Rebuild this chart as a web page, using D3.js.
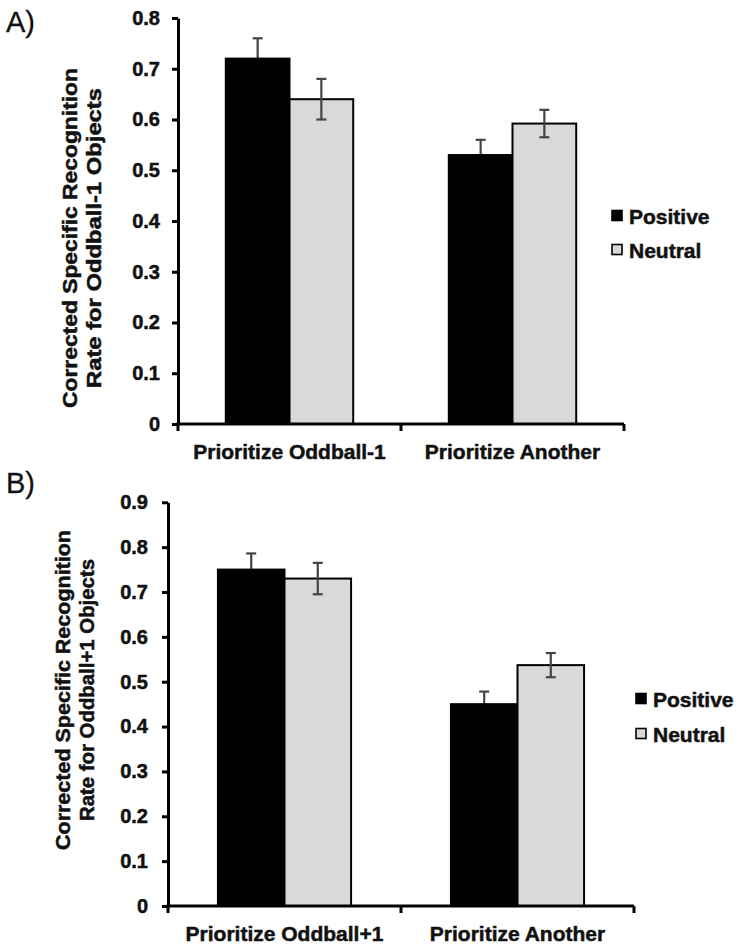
<!DOCTYPE html>
<html>
<head>
<meta charset="utf-8">
<script src="https://cdn.jsdelivr.net/npm/d3@7"></script>
<style>
  body { margin: 0; background: #fff; }
  text { font-family: "Liberation Sans", Arial, sans-serif; font-weight: bold; fill: #111; stroke: #111; stroke-width: 0.5px; }
</style>
</head>
<body>
<script>
// chart values
var series = ["Positive", "Neutral"];

var categoriesA = ["Prioritize Oddball-1", "Prioritize Another"];
var positiveA = [0.72, 0.53];
var neutralA = [0.64, 0.592];
var positiveErrA = [0.04, 0.03];
var neutralErrA = [0.04, 0.027];
var ticksA = [0, 0.1, 0.2, 0.3, 0.4, 0.5, 0.6, 0.7, 0.8];

var categoriesB = ["Prioritize Oddball+1", "Prioritize Another"];
var positiveB = [0.75, 0.45];
var neutralB = [0.73, 0.537];
var positiveErrB = [0.036, 0.028];
var neutralErrB = [0.035, 0.027];
var ticksB = [0, 0.1, 0.2, 0.3, 0.4, 0.5, 0.6, 0.7, 0.8, 0.9];

var fills = { Positive: "#000", Neutral: "#d9d9d9" };

var w = 743, h = 949;
var svg = d3.select("body").append("svg")
    .attr("width", w)
    .attr("height", h);

function panel(p) {
  var g = svg.append("g").attr("class", "panel");

  var y = d3.scaleLinear().domain([0, p.ticks[p.ticks.length - 1]]).range([p.bottom, p.top]);
  var x = d3.scaleBand().domain(p.categories).range([p.left, p.right]);
  var xs = d3.scaleBand().domain(series).range([0, x.bandwidth()]).paddingOuter(0.75);

  // rows for bars
  var rows = [];
  p.categories.forEach(function(c, i) {
    rows.push({ cat: c, s: "Positive", v: p.positive[i], e: p.positiveErr[i] });
    rows.push({ cat: c, s: "Neutral", v: p.neutral[i], e: p.neutralErr[i] });
  });

  function errBar(sel) {
    sel.each(function(d) {
      var cx = x(d.cat) + xs(d.s) + xs.bandwidth() / 2;
      var eg = d3.select(this);
      eg.append("line").attr("x1", cx).attr("x2", cx)
        .attr("y1", y(d.v - d.e)).attr("y2", y(d.v + d.e));
      [d.v - d.e, d.v + d.e].forEach(function(t) {
        eg.append("line").attr("x1", cx - 5).attr("x2", cx + 5)
          .attr("y1", y(t)).attr("y2", y(t));
      });
    });
  }

  // positive whiskers sit behind the black bars
  g.append("g").selectAll("g")
    .data(rows.filter(function(d) { return d.s === "Positive"; }))
    .join("g")
    .attr("stroke", "#444").attr("stroke-width", 2.2)
    .call(errBar);

  g.append("g").selectAll("rect")
    .data(rows)
    .join("rect")
    .attr("x", function(d) { return x(d.cat) + xs(d.s); })
    .attr("y", function(d) { return y(d.v); })
    .attr("width", xs.bandwidth())
    .attr("height", function(d) { return y(0) - y(d.v); })
    .attr("fill", function(d) { return fills[d.s]; })
    .attr("stroke", "#000")
    .attr("stroke-width", 2);

  g.append("g").selectAll("g")
    .data(rows.filter(function(d) { return d.s === "Neutral"; }))
    .join("g")
    .attr("stroke", "#444").attr("stroke-width", 2.2)
    .call(errBar);

  // y axis
  var yAxis = d3.axisLeft(y)
    .tickValues(p.ticks)
    .tickFormat(function(d) { return d === 0 ? "0" : d3.format(".1f")(d); })
    .tickSize(6)
    .tickSizeOuter(0)
    .tickPadding(p.tickPad);
  var ya = g.append("g")
    .attr("transform", "translate(" + p.left + ",0)")
    .call(yAxis);
  ya.select(".domain").attr("stroke", "#000").attr("stroke-width", 3);
  ya.selectAll(".tick line").attr("stroke", "#000").attr("stroke-width", 3);
  ya.selectAll(".tick text")
    .style("font-size", "20px")
    .style("font-family", "Liberation Sans, Arial, sans-serif")
    .style("font-weight", "bold")
    .attr("fill", "#111");

  // x axis with ticks on the band edges
  var edges = p.categories.map(function(c) { return x(c); }).concat([p.right]);
  g.append("line")
    .attr("x1", p.left - 1.5).attr("x2", p.right)
    .attr("y1", y(0)).attr("y2", y(0))
    .attr("stroke", "#000").attr("stroke-width", 3);
  g.append("g").selectAll("line")
    .data(edges)
    .join("line")
    .attr("x1", function(d) { return d; }).attr("x2", function(d) { return d; })
    .attr("y1", y(0)).attr("y2", y(0) + 7)
    .attr("stroke", "#000").attr("stroke-width", 3);

  g.append("g").selectAll("text")
    .data(p.categories)
    .join("text")
    .attr("x", function(d) { return x(d) + x.bandwidth() / 2; })
    .attr("y", y(0) + 35)
    .attr("text-anchor", "middle")
    .style("font-size", "21px")
    .text(function(d) { return d; });

  // rotated y title, stretched along its length like the original
  var yt = g.append("text")
    .attr("transform", "translate(" + p.titleX + "," + p.titleY + ") rotate(-90)")
    .attr("text-anchor", "middle")
    .style("font-size", p.titleSize + "px");
  p.title.forEach(function(t, i) {
    yt.append("tspan")
      .attr("x", 0).attr("dy", i === 0 ? 0 : 24)
      .attr("textLength", p.titleLen[i])
      .attr("lengthAdjust", "spacingAndGlyphs")
      .text(t);
  });

  // panel letter
  g.append("text")
    .attr("x", 6).attr("y", p.letterY)
    .style("font-weight", "normal")
    .style("stroke-width", "0.3px")
    .style("font-size", "29px")
    .text(p.letter);

  // legend
  var lg = g.append("g").selectAll("g")
    .data(series)
    .join("g")
    .attr("transform", function(d, i) { return "translate(" + p.legX + "," + (p.legY + i * p.legGap) + ")"; });
  lg.append("rect")
    .attr("x", 0).attr("y", -5.5)
    .attr("width", 10).attr("height", 10)
    .attr("fill", function(d) { return fills[d]; })
    .attr("stroke", "#000").attr("stroke-width", 1.6);
  lg.append("text")
    .attr("x", 17).attr("y", 0)
    .attr("dy", "0.36em")
    .style("font-size", "21px")
    .text(function(d) { return d; });
}

panel({
  letter: "A)", letterY: 32,
  categories: categoriesA, positive: positiveA, neutral: neutralA,
  positiveErr: positiveErrA, neutralErr: neutralErrA, ticks: ticksA,
  left: 178, right: 624, top: 18, bottom: 424, tickPad: 12,
  title: ["Corrected Specific Recognition", "Rate for Oddball-1 Objects"],
  titleLen: [340, 300],
  titleX: 77, titleY: 238, titleSize: 20,
  legX: 612, legY: 216, legGap: 34
});

panel({
  letter: "B)", letterY: 493,
  categories: categoriesB, positive: positiveB, neutral: neutralB,
  positiveErr: positiveErrB, neutralErr: neutralErrB, ticks: ticksB,
  left: 168, right: 634, top: 502.3, bottom: 906, tickPad: 14,
  title: ["Corrected Specific Recognition", "Rate for Oddball+1 Objects"],
  titleLen: [320, 262],
  titleX: 70, titleY: 690, titleSize: 19.5,
  legX: 636, legY: 699, legGap: 35
});
</script>
</body>
</html>
